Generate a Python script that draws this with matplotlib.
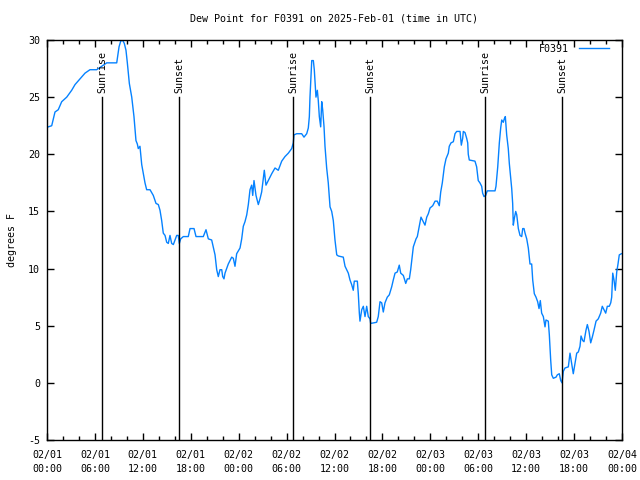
import datetime as dt
import matplotlib
matplotlib.use("Agg")
import matplotlib.pyplot as plt
import matplotlib.dates as mdates

# dew point readings, hours after 2025-02-01 00:00 UTC
hours = [
    0.16, 0.59, 0.79, 1.00, 1.41, 1.84, 2.47, 3.09, 3.51, 4.13, 4.76, 5.38, 6.22, 6.85,
    7.48, 8.73, 9.02, 9.23, 9.45, 9.68, 9.89, 10.06, 10.31, 10.61, 10.89, 11.14, 11.31,
    11.43, 11.64, 11.77, 11.86, 12.06, 12.27, 12.48, 12.90, 13.31, 13.65, 13.94, 14.15,
    14.36, 14.56, 14.78, 14.99, 15.19, 15.40, 15.61, 15.82, 16.03, 16.24, 16.44, 16.57,
    16.74, 17.07, 17.69, 17.91, 18.41, 18.66, 19.57, 19.91, 20.20, 20.62, 20.82, 21.04,
    21.25, 21.45, 21.66, 21.88, 22.00, 22.16, 22.29, 22.70, 23.13, 23.33, 23.54, 23.75,
    24.17, 24.38, 24.58, 24.79, 25.01, 25.21, 25.42, 25.63, 25.76, 25.92, 26.17, 26.46,
    26.67, 26.88, 27.21, 27.42, 27.71, 28.14, 28.55, 28.96, 29.39, 29.80, 30.22, 30.64,
    30.84, 30.93, 31.27, 31.89, 32.18, 32.52, 32.72, 32.85, 32.93, 33.15, 33.35, 33.47,
    33.68, 33.85, 33.97, 34.10, 34.27, 34.40, 34.52, 34.69, 34.81, 35.02, 35.22, 35.44,
    35.65, 35.85, 36.06, 36.28, 36.48, 37.10, 37.32, 37.53, 37.73, 37.94, 38.15, 38.35,
    38.48, 38.86, 38.98, 39.11, 39.19, 39.41, 39.61, 39.82, 40.03, 40.23, 40.45, 40.53,
    41.28, 41.48, 41.70, 41.91, 42.11, 42.32, 42.61, 42.86, 43.16, 43.36, 43.58, 43.86,
    44.11, 44.29, 44.62, 44.92, 45.12, 45.37, 45.54, 45.67, 45.87, 46.21, 46.37, 46.62,
    46.83, 47.12, 47.33, 47.55, 47.75, 47.96, 48.30, 48.59, 48.87, 49.12, 49.30, 49.50,
    49.75, 49.96, 50.25, 50.37, 50.59, 50.88, 51.09, 51.30, 51.72, 51.88, 52.05, 52.13,
    52.34, 52.55, 52.68, 52.75, 52.88, 53.59, 53.80, 54.00, 54.21, 54.43, 54.55, 54.72,
    54.93, 55.13, 56.10, 56.22, 56.44, 56.64, 56.81, 56.94, 57.14, 57.26, 57.39, 57.56,
    57.76, 57.89, 58.06, 58.19, 58.31, 58.39, 58.52, 58.69, 58.82, 59.02, 59.23, 59.44,
    59.57, 59.73, 59.86, 60.07, 60.27, 60.48, 60.69, 60.82, 61.02, 61.23, 61.44, 61.61,
    61.77, 61.94, 62.15, 62.36, 62.48, 62.77, 62.90, 63.07, 63.20, 63.40, 63.74, 63.90,
    64.15, 64.33, 64.49, 64.65, 64.86, 65.28, 65.49, 65.70, 65.90, 66.12, 66.33, 66.53,
    66.74, 66.87, 67.08, 67.24, 67.49, 67.66, 67.87, 68.08, 68.28, 68.49, 68.75, 69.03,
    69.33, 69.53, 69.75, 69.96, 70.16, 70.41, 70.59, 70.71, 70.84, 71.00, 71.16, 71.34,
    71.50, 71.66, 71.93,
]
dew_point = [
    22.4, 22.5, 23.1, 23.7, 23.9, 24.6, 25.0, 25.6, 26.1, 26.6, 27.1, 27.4, 27.4, 27.7,
    28.0, 28.0, 29.4, 29.9, 30.0, 29.7, 29.1, 28.0, 26.2, 25.0, 23.3, 21.2, 20.9,
    20.5, 20.7, 19.8, 19.1, 18.3, 17.5, 16.9, 16.9, 16.4, 15.7, 15.6, 15.1,
    14.2, 13.1, 12.9, 12.3, 12.2, 12.9, 12.2, 12.1, 12.5, 12.9, 12.9, 12.2,
    12.6, 12.8, 12.8, 13.5, 13.5, 12.8, 12.8, 13.4, 12.6, 12.5, 11.9, 11.2,
    9.9, 9.3, 9.9, 9.9, 9.3, 9.1, 9.6, 10.4, 11.0, 10.9, 10.2, 11.3,
    11.8, 12.6, 13.7, 14.1, 14.7, 15.6, 16.9, 17.3, 16.4, 17.7, 16.4, 15.6,
    16.1, 16.7, 18.6, 17.3, 17.7, 18.3, 18.8, 18.6, 19.4, 19.8, 20.1, 20.5,
    21.0, 21.7, 21.8, 21.8, 21.5, 21.8, 22.3, 23.3, 25.0, 28.2, 28.2, 27.4,
    25.0, 25.6, 24.7, 23.3, 22.4, 24.6, 23.9, 22.4, 20.7, 18.8, 17.5, 15.4,
    15.0, 14.2, 12.5, 11.2, 11.1, 11.0, 10.2, 9.9, 9.6, 9.0, 8.6, 8.1,
    8.9, 8.9, 7.8, 6.1, 5.4, 6.4, 6.7, 5.8, 6.7, 5.8, 5.6, 5.2,
    5.3, 5.8, 7.1, 7.0, 6.2, 7.0, 7.5, 7.7, 8.4, 9.0, 9.6, 9.7,
    10.3, 9.6, 9.4, 8.7, 9.1, 9.1, 9.9, 10.7, 11.9, 12.6, 12.8, 13.7,
    14.5, 14.1, 13.8, 14.5, 14.8, 15.3, 15.5, 15.9, 15.9, 15.5, 16.7, 17.5,
    18.9, 19.6, 20.1, 20.7, 21.0, 21.1, 21.8, 22.0, 22.0, 20.8, 21.4, 22.0,
    21.9, 21.4, 21.0, 20.0, 19.5, 19.4, 18.9, 17.7, 17.5, 17.2, 16.6, 16.3,
    16.4, 16.8, 16.8, 17.2, 18.9, 21.0, 22.3, 23.0, 22.8, 23.1, 23.3, 21.7,
    20.5, 19.2, 18.0, 17.0, 15.7, 13.8, 14.4, 15.0, 14.7, 13.5, 12.9, 12.8,
    13.5, 13.5, 13.1, 12.6, 11.8, 10.4, 10.4, 9.0, 7.8, 7.5, 7.1, 6.5,
    7.2, 6.1, 5.8, 4.9, 5.5, 5.4, 4.2, 2.0, 0.7, 0.4, 0.5, 0.7,
    0.8, 0.2, 0.0, 1.0, 1.3, 1.4, 2.6, 1.7, 0.8, 1.7, 2.6, 2.7,
    3.2, 4.1, 3.7, 3.6, 4.6, 5.1, 4.5, 3.5, 4.0, 4.6, 5.4, 5.6,
    6.1, 6.7, 6.4, 6.1, 6.7, 6.7, 7.0, 7.5, 9.6, 9.0, 8.1, 9.7,
    10.4, 11.2, 11.3,
]

# sunrise / sunset markers (hours after start)
sun_hours = [6.92, 16.57, 30.84, 40.45, 54.89, 64.53]
sun_labels = ["Sunrise", "Sunset", "Sunrise", "Sunset", "Sunrise", "Sunset"]

start = dt.datetime(2025, 2, 1)
times = [start + dt.timedelta(hours=h) for h in hours]
sun_times = [start + dt.timedelta(hours=h) for h in sun_hours]

plt.rcParams["font.family"] = ["DejaVu Sans Mono"]
plt.rcParams["font.size"] = 7.2
plt.rcParams["axes.unicode_minus"] = False

fig = plt.figure(figsize=(6.4, 4.8), dpi=100)
ax = fig.add_axes([47 / 640, 1 - 440 / 480, 575 / 640, 400 / 480])

ax.plot(times, dew_point, color="#0582ff", lw=1.0, label="F0391")

for t, lab in zip(sun_times, sun_labels):
    ax.plot([t, t], [-5, 25], color="black", lw=1.0)
    ax.text(t, 25.4, lab, rotation=90, ha="center", va="bottom", fontsize=7.2)

ax.set_xlim(start, start + dt.timedelta(hours=72))
ax.set_ylim(-5, 30)
ax.set_yticks(range(-5, 31, 5))

ax.xaxis.set_major_locator(mdates.HourLocator(byhour=[0, 6, 12, 18]))
ax.xaxis.set_minor_locator(mdates.HourLocator(byhour=range(0, 24, 2)))
ax.xaxis.set_major_formatter(mdates.DateFormatter("%m/%d\n%H:%M"))
for lbl in ax.get_xticklabels():
    lbl.set_linespacing(1.5)

ax.tick_params(which="both", direction="in", top=True, right=True, width=1.0)
ax.tick_params(which="major", length=5, pad=5)
ax.tick_params(axis="x", which="major", pad=7)
ax.tick_params(which="minor", length=3)
for s in ax.spines.values():
    s.set_linewidth(1.0)

ax.set_ylabel("degrees F", labelpad=8)
ax.set_title("Dew Point for F0391 on 2025-Feb-01 (time in UTC)", pad=13, fontsize=7.2)

ax.legend(loc="upper right", bbox_to_anchor=(0.9843, 1.0), frameon=False,
          markerfirst=False, handlelength=3.0, borderaxespad=0.0, handletextpad=1.0)

fig.savefig("out.png", dpi=100)
